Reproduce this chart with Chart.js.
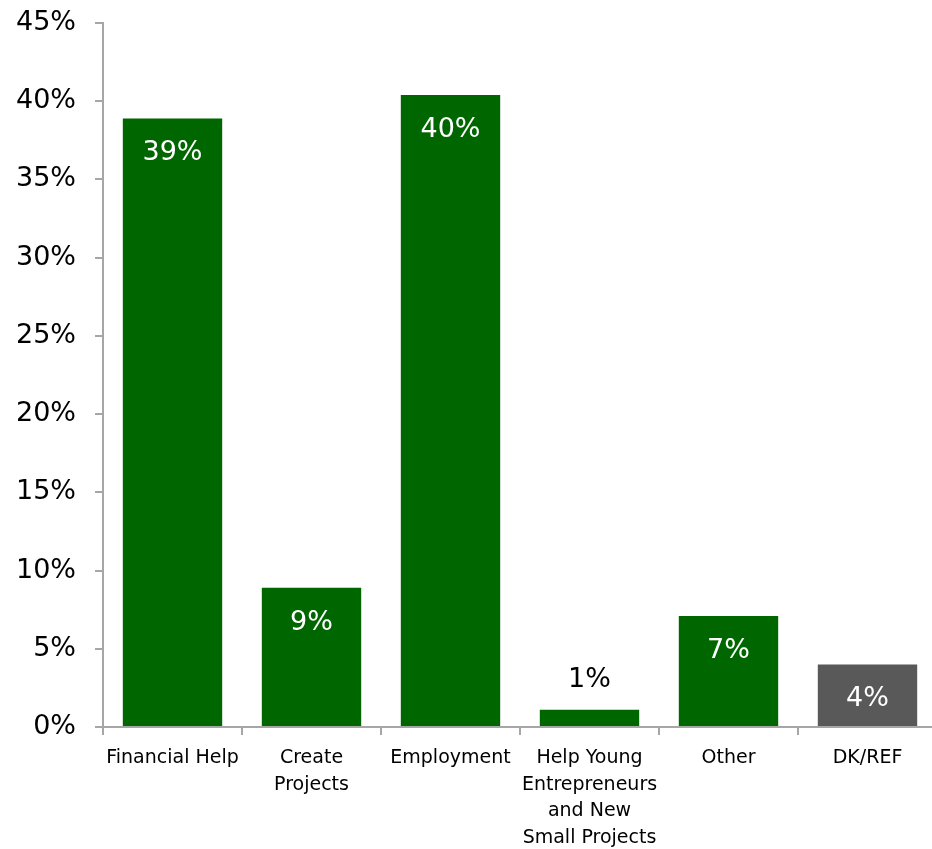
<!DOCTYPE html>
<html>
<head>
<meta charset="utf-8">
<script src="https://cdn.jsdelivr.net/npm/chart.js@4.4.1/dist/chart.umd.min.js"></script>
<style>
  html, body { margin: 0; padding: 0; background: #fff; overflow: hidden; }
  #wrap { width: 937px; height: 849px; }
</style>
</head>
<body>
<div id="wrap"><canvas id="barChart"></canvas></div>
<script>
/* --- Datos --- */
const categories = [
  'Financial Help',
  ['Create', 'Projects'],
  'Employment',
  ['Help Young', 'Entrepreneurs', 'and New', 'Small Projects'],
  'Other',
  'DK/REF'
];
const values = [38.9, 8.9, 40.4, 1.1, 7.1, 4.0];
const valueLabels = ['39%', '9%', '40%', '1%', '7%', '4%'];
const barColors = ['#006600', '#006600', '#006600', '#006600', '#006600', '#595959'];
const yTicks = [0, 5, 10, 15, 20, 25, 30, 35, 40, 45];

const FONT = "'DejaVu Sans', Verdana, sans-serif";
const AXIS_GREY = '#a6a6a6';

/* --- Etiquetas de valor sobre / dentro de las barras --- */
const valueLabelPlugin = {
  id: 'valueLabels',
  afterDatasetsDraw(chart) {
    const ctx = chart.ctx;
    const meta = chart.getDatasetMeta(0);
    ctx.save();
    ctx.font = '27px ' + FONT;
    ctx.textAlign = 'center';
    ctx.textBaseline = 'middle';
    meta.data.forEach((bar, i) => {
      const h = bar.base - bar.y;
      if (h > 50) {
        ctx.fillStyle = '#ffffff';
        ctx.fillText(valueLabels[i], bar.x, bar.y + 35);
      } else {
        ctx.fillStyle = '#000000';
        ctx.fillText(valueLabels[i], bar.x, bar.y - 30);
      }
    });
    ctx.restore();
  }
};

new Chart(document.getElementById('barChart'), {
  type: 'bar',
  data: {
    labels: categories,
    datasets: [{
      data: values,
      backgroundColor: barColors,
      borderWidth: 0,
      categoryPercentage: 1,
      barPercentage: 0.715
    }]
  },
  options: {
    responsive: true,
    maintainAspectRatio: false,
    animation: false,
    layout: { padding: { top: 23, right: 0, left: 0, bottom: 0 } },
    plugins: {
      legend: { display: false },
      tooltip: { enabled: false }
    },
    scales: {
      x: {
        grid: {
          display: true,
          drawOnChartArea: false,
          drawTicks: true,
          tickLength: 8,
          color: AXIS_GREY,
          lineWidth: 2,
          offset: true
        },
        border: { color: AXIS_GREY, width: 2 },
        ticks: {
          color: '#000',
          padding: 10,
          maxRotation: 0,
          autoSkip: false,
          font: { family: FONT, size: 19, lineHeight: 1.4 }
        },
        afterFit(scale) { scale.height = 122; }
      },
      y: {
        min: 0,
        max: 45,
        afterBuildTicks(scale) {
          scale.ticks = yTicks.map(v => ({ value: v }));
        },
        grid: {
          display: true,
          drawOnChartArea: false,
          drawTicks: true,
          tickLength: 8,
          color: AXIS_GREY,
          lineWidth: 2
        },
        border: { color: AXIS_GREY, width: 2 },
        ticks: {
          color: '#000',
          padding: 19,
          callback: v => v + '%',
          font: { family: FONT, size: 27 }
        },
        afterFit(scale) {
          scale.width = 103;
          // el padding de las etiquetas no debe empujar el área hacia abajo
          scale.paddingTop = 16;
          scale.paddingBottom = 16;
        }
      }
    }
  },
  plugins: [valueLabelPlugin]
});
</script>
</body>
</html>
